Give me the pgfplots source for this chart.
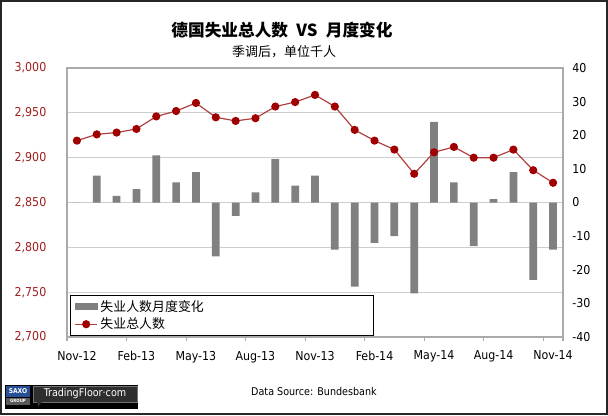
\documentclass[border=0pt]{standalone}
\usepackage{pgfplots}
\pgfplotsset{compat=1.18}
\usepackage{pgfplotstable}
\usepackage{fontspec}
\setmainfont{DejaVu Sans Condensed}
\newfontfamily\cjk{Noto Sans CJK SC}
\definecolor{barcol}{RGB}{128,128,128}
\definecolor{linecol}{RGB}{176,64,64}
\definecolor{markcol}{RGB}{160,0,0}
\definecolor{leftcol}{RGB}{160,30,30}
\definecolor{gridcol}{RGB}{205,205,205}
\definecolor{framecol}{RGB}{170,170,170}
\definecolor{saxoblue}{RGB}{40,80,150}

\pgfplotstableread{
x level bar
0 2919 0
1 2926 8
2 2928 2
3 2932 4
4 2946 14
5 2952 6
6 2961 9
7 2945 -16
8 2941 -4
9 2944 3
10 2957 13
11 2962 5
12 2970 8
13 2957 -14
14 2931 -25
15 2919 -12
16 2909 -10
17 2882 -27
18 2906 24
19 2912 6
20 2900 -13
21 2900 1
22 2909 9
23 2886 -23
24 2872 -14
}\data

\pgfplotsset{base/.style={
  scale only axis, width=372pt, height=201.75pt,
  at={(50.25pt,58.5pt)}, anchor=south west,
  xmin=-0.5, xmax=24.5,
  tick label style={font=\fontsize{9.2}{11}\selectfont},
  /pgf/number format/assume math mode=true,
  scaled y ticks=false,
}}

\begin{document}
\begin{tikzpicture}[x=0.75pt,y=0.75pt]
\path[use as bounding box] (0,0) rectangle (608,415);

% frame, grid, left axis, x ticks
\begin{axis}[base,
  ymin=2700, ymax=3000,
  ytick={2700,2750,...,3000},
  ymajorgrids, grid style={draw=gridcol, line width=0.75pt},
  axis line style={draw=framecol, line width=0.8pt},
  tick align=outside, major tick length=3pt,
  xtick pos=left, ytick pos=left,
  ytick style={draw=none},
  xtick style={draw=framecol, line width=0.8pt},
  yticklabel style={color=leftcol, xshift=-9pt, /pgf/number format/1000 sep={,}},
  xtick={-0.5,2.5,5.5,8.5,11.5,14.5,17.5,20.5,23.5,24.5},
  xticklabels={},
  extra x ticks={0,3,6,9,12,15,18,21,24},
  extra x tick labels={Nov-12,Feb-13,May-13,Aug-13,Nov-13,Feb-14,May-14,Aug-14,Nov-14},
  extra x tick style={major tick length=0pt, xticklabel style={yshift=-7pt}},
]
\addplot[draw=none, forget plot] coordinates {(0,2800)};
\end{axis}

% bars, right axis
\begin{axis}[base,
  ymin=-40, ymax=40,
  ytick={-40,-30,...,40},
  yticklabels={-40,-30,-20,-10,0,10,20,30,40},
  axis y line*=right, axis x line=none,
  axis line style={draw=framecol, line width=0.8pt},
  ytick style={draw=none},
  yticklabel style={color=black, xshift=3.5pt},
]
\addplot[ybar, bar width=0.39, fill=barcol, draw=none] table[x=x, y=bar]{\data};
\end{axis}

% line, legend
\begin{axis}[base,
  ymin=2700, ymax=3000,
  hide axis,
  legend cell align=left,
  legend style={at={(axis description cs:0.006,0.004)}, anchor=south west,
    draw=black, line width=0.9pt, fill=white, inner xsep=3pt, inner ysep=1.5pt,
    font=\cjk\fontsize{9.7}{11}\selectfont, row sep=-0.5pt},
]
\addlegendimage{legend image code/.code={\fill[barcol] (0pt,-2.3pt) rectangle (16.5pt,2.3pt);}}
\addlegendentry{\makebox[200pt][l]{失业人数月度变化}}
\addplot[linecol, line width=0.9pt, mark=*, mark size=2.6pt,
  mark options={fill=markcol, draw=markcol},
  legend image code/.code={\draw[linecol,line width=0.9pt] (0pt,0pt) -- (16.5pt,0pt); \fill[markcol] (8.25pt,0pt) circle (2.6pt);}]
  table[x=x, y=level]{\data};
\addlegendentry{\makebox[200pt][l]{失业总人数}}
\end{axis}

% titles
\node at (282,385) {\cjk\bfseries\fontsize{12.5}{14}\selectfont 德国失业总人数\hspace{0.5em}VS\hspace{0.5em}月度变化};
\node at (284,363.5) {\cjk\fontsize{9.75}{11}\selectfont 季调后，单位千人};
\node at (314,23) {\fontsize{8}{9.6}\selectfont Data Source: Bundesbank};

% logo
\fill[black] (5,6) rectangle (138,30);
\fill[saxoblue] (6,18) rectangle (30,29);
\node[white, inner sep=0pt] at (18,23.5) {\bfseries\fontsize{5}{5}\selectfont SAXO};
\fill[black!65] (6,10) rectangle (30,17.3);
\node[white, inner sep=0pt] at (18,13.7) {\bfseries\fontsize{3.3}{4}\selectfont GROUP};
\fill[black!82] (33,13) rectangle (137,29);
\draw[black!55, line width=0.5pt] (33,13) rectangle (137,29);
\fill[black!82] (37,13.3) -- (42,13.3) -- (38,8) -- cycle;
\node[white, inner sep=0pt] at (85,21) {\fontsize{8}{9}\selectfont TradingFloor·com};

% outer frame
\draw[line width=1.5pt, black!85] (1,1) rectangle (607,414);
\end{tikzpicture}
\end{document}
